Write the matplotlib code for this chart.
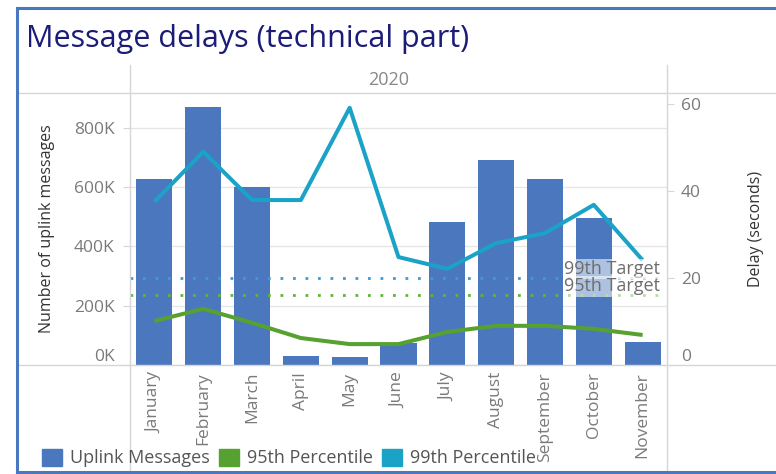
import matplotlib
matplotlib.use("Agg")
import matplotlib.pyplot as plt
from matplotlib.lines import Line2D
from matplotlib.patches import Patch
from matplotlib.ticker import FuncFormatter

plt.rcParams["font.family"] = ["Open Sans", "DejaVu Sans"]

# ── data ──
months = ["January", "February", "March", "April", "May", "June",
          "July", "August", "September", "October", "November"]
uplink_messages = [628000, 871000, 601000, 30000, 27000, 74000,
                   483000, 692000, 628000, 496000, 78000]
p95_delay = [10.1, 12.9, 9.7, 6.2, 4.8, 4.8, 7.6, 9.0, 9.0, 8.3, 6.9]
p99_delay = [37.5, 49.0, 37.9, 37.9, 59.1, 24.8, 22.1, 28.0, 30.3, 36.8, 24.1]
target_99 = 20
target_95 = 16
year_label = "2020"

# ── colours ──
BAR_BLUE = "#4a77be"
GREEN = "#56a130"
TEAL = "#1aa3c6"
T99_COLOR = "#3d9bd8"
T95_COLOR = "#63b33c"
GRID = "#e6e6e6"
SEP = "#d6d6d6"
TICK_TXT = "#7a7a7a"
FRAME = "#4a78bf"

W, H = 776, 474
fig = plt.figure(figsize=(W / 100, H / 100), dpi=100)


def fx(px):
    return px / W


def fy(py):
    return 1 - py / H


ax = fig.add_axes([fx(130), fy(365), fx(667) - fx(130), fy(93) - fy(365)])
ax2 = ax.twinx()

x = list(range(len(months)))
ax.bar(x, uplink_messages, width=0.74, color=BAR_BLUE, zorder=2)
ax.set_xlim(-0.5, len(months) - 0.5)
ax.set_ylim(0, 918000)
ax.set_yticks([0, 200000, 400000, 600000, 800000])
ax.yaxis.set_major_formatter(FuncFormatter(lambda v, _: f"{v / 1000:.0f}K"))
ax.grid(axis="y", color=GRID, lw=1, zorder=0)
ax.set_axisbelow(True)
ax.tick_params(axis="y", colors=SEP, labelcolor=TICK_TXT, labelsize=12.5,
               length=5, pad=6)
ax.set_xticks(x)
ax.set_xticklabels(months, rotation=90, fontsize=12.5, color=TICK_TXT, va="top")
ax.tick_params(axis="x", length=0, pad=5)
ax.set_ylabel("Number of uplink messages", fontsize=11.5, color="#333333",
              labelpad=14)
ax.get_yticklabels()[0].set_va("bottom")

ax2.plot(x, p99_delay, color=TEAL, lw=2.9, solid_joinstyle="round",
         solid_capstyle="butt", zorder=4)
ax2.plot(x, p95_delay, color=GREEN, lw=2.9, solid_joinstyle="round",
         solid_capstyle="butt", zorder=4)
ax2.axhline(target_99, color=T99_COLOR, lw=2, ls=(0, (1, 3.5)), zorder=3)
ax2.axhline(target_95, color=T95_COLOR, lw=2, ls=(0, (1, 3.5)), zorder=3)
ax2.set_ylim(0, 62.5)
ax2.set_yticks([0, 20, 40, 60])
ax2.tick_params(axis="y", colors=SEP, labelcolor=TICK_TXT, labelsize=12.5,
                length=5, pad=5)
ax2.get_yticklabels()[0].set_va("bottom")
ax2.set_ylabel("Delay (seconds)", fontsize=11.5, color="#333333", labelpad=34)

box = dict(facecolor="white", alpha=0.55, edgecolor="none", pad=1)
for label, val in [("99th Target", target_99), ("95th Target", target_95)]:
    ax2.annotate(label, xy=(1, val), xycoords=("axes fraction", "data"),
                 xytext=(-5, 0), textcoords="offset points", ha="right",
                 va="bottom", fontsize=13, color="#6e6e6e", bbox=box, zorder=5)

for a in (ax, ax2):
    for s in a.spines.values():
        s.set_visible(False)

# ── table-like separators and outer frame ──
seps = [
    ([fx(130), fx(130)], [fy(65), fy(H)]),
    ([fx(667), fx(667)], [fy(65), fy(H)]),
    ([fx(17), 1], [fy(93), fy(93)]),
    ([fx(17), 1], [fy(365), fy(365)]),
]
for xs, ys in seps:
    fig.add_artist(Line2D(xs, ys, color=SEP, lw=1))

for xs, ys in [([fx(17), fx(17)], [fy(8), fy(473)]),
               ([fx(17), 1], [fy(8), fy(8)]),
               ([fx(17), 1], [fy(472), fy(472)])]:
    fig.add_artist(Line2D(xs, ys, color=FRAME, lw=2.2))

fig.text(fx(26), fy(39), "Message delays (technical part)", fontsize=22,
         color="#1b1b78", va="center", ha="left")
fig.text(fx(389), fy(80), year_label, fontsize=13, color="#888888",
         ha="center", va="center")

handles = [Patch(color=BAR_BLUE, label="Uplink Messages"),
           Patch(color=GREEN, label="95th Percentile"),
           Patch(color=TEAL, label="99th Percentile")]
leg = fig.legend(handles=handles, loc="center left",
                 bbox_to_anchor=(fx(42), fy(458)), ncol=3, frameon=False,
                 fontsize=13, handlelength=1.1, handleheight=1.1,
                 handletextpad=0.45, columnspacing=0.5, borderaxespad=0,
                 borderpad=0)
for t in leg.get_texts():
    t.set_color("#555555")

fig.savefig("out.png", dpi=100)
